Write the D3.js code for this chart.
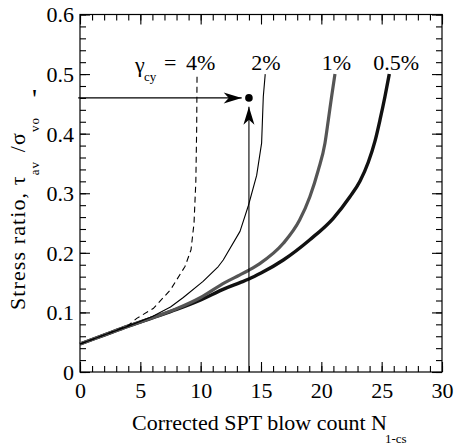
<!DOCTYPE html>
<html><head><meta charset="utf-8">
<script src="https://cdn.jsdelivr.net/npm/d3@7"></script>
<style>
body{margin:0;background:#fff}
</style>
</head><body>
<svg id="chart" width="454" height="448"></svg>
<script>
// ---- data ----
const xTicks = [0, 5, 10, 15, 20, 25, 30];
const yTicks = [0, 0.1, 0.2, 0.3, 0.4, 0.5, 0.6];
const yTickLabels = ["0", "0.1", "0.2", "0.3", "0.4", "0.5", "0.6"];
const strainLabels = ["4%", "2%", "1%", "0.5%"];
const strainLabelX = [10.0, 15.4, 21.25, 26.2];

const n4 = [0, 2, 4, 4.7, 6.1, 7.5, 8.7, 9.2, 9.45, 9.6, 9.67, 9.7];
const r4 = [0.047, 0.062, 0.078, 0.090, 0.107, 0.138, 0.177, 0.205, 0.25, 0.32, 0.41, 0.50];

const n2 = [0, 2, 4, 6, 7.5, 8.56, 10.2, 11.46, 11.87, 13.26, 13.95, 14.64, 15.05, 15.19, 15.35];
const r2 = [0.047, 0.062, 0.077, 0.093, 0.109, 0.125, 0.152, 0.177, 0.188, 0.236, 0.279, 0.330, 0.384, 0.462, 0.500];

const n1 = [0, 2, 4, 6, 8, 10, 12, 13.26, 14, 14.9, 16.85, 18.2, 19.05, 19.75, 20.3, 20.58, 20.85, 21.13];
const r1 = [0.047, 0.062, 0.077, 0.091, 0.106, 0.125, 0.150, 0.163, 0.171, 0.182, 0.216, 0.255, 0.294, 0.339, 0.384, 0.423, 0.462, 0.500];

const n05 = [0, 2, 4, 6, 8, 10, 12, 13.26, 14, 15, 16.85, 19.05, 20.99, 22.37, 23.2, 23.89, 24.44, 24.86, 25.27, 25.63];
const r05 = [0.047, 0.062, 0.077, 0.091, 0.105, 0.121, 0.140, 0.150, 0.156, 0.166, 0.188, 0.222, 0.258, 0.294, 0.320, 0.352, 0.387, 0.423, 0.462, 0.500];

const designPoint = [14, 0.46];
const hArrow = [[-0.15, 0.46], [13.4, 0.46]];
const vArrow = [[14, 0], [14, 0.445]];

// ---- layout ----
const FONT = '"Liberation Serif"';
const svg = d3.select("#chart");
const L = 80, R = 442, T = 14.5, B = 372;
const x = d3.scaleLinear().domain([0, 30]).range([L, R]);
const y = d3.scaleLinear().domain([0, 0.6]).range([B, T]);

function txt(sel) { return sel.attr("font-family", null).style("font-family", FONT).attr("fill", "#000"); }

const defs = svg.append("defs");
defs.append("marker").attr("id", "arr")
  .attr("viewBox", "-20 -7 22 14").attr("refX", 0).attr("refY", 0)
  .attr("markerWidth", 22).attr("markerHeight", 14)
  .attr("markerUnits", "userSpaceOnUse").attr("orient", "auto")
  .append("path").attr("d", "M0,0 L-18,-5.5 L-13,0 L-18,5.5 Z").attr("fill", "#000");

function styleAxis(g) {
  g.attr("font-family", null).attr("font-size", null);
  g.select(".domain").remove();
  g.selectAll(".tick line").attr("stroke", "#000").attr("stroke-width", 1.1);
}
const minorX = d3.range(0, 31, 1);
const minorY = d3.range(0, 0.601, 0.02);

svg.append("g").attr("transform", `translate(0,${B})`)
  .call(d3.axisBottom(x).tickValues(minorX).tickSize(-6).tickFormat("")).call(styleAxis);
svg.append("g").attr("transform", `translate(0,${B})`)
  .call(d3.axisBottom(x).tickValues(xTicks).tickSize(-10).tickFormat(d3.format("d")))
  .call(styleAxis)
  .call(g => txt(g.selectAll("text")).attr("font-size", 22).attr("dy", null).attr("y", 26));
svg.append("g").attr("transform", `translate(0,${T})`)
  .call(d3.axisTop(x).tickValues(minorX).tickSize(-6).tickFormat("")).call(styleAxis);
svg.append("g").attr("transform", `translate(0,${T})`)
  .call(d3.axisTop(x).tickValues(xTicks).tickSize(-10).tickFormat("")).call(styleAxis);

svg.append("g").attr("transform", `translate(${L},0)`)
  .call(d3.axisLeft(y).tickValues(minorY).tickSize(-6).tickFormat("")).call(styleAxis);
svg.append("g").attr("transform", `translate(${L},0)`)
  .call(d3.axisLeft(y).tickValues(yTicks).tickSize(-10).tickFormat((d, i) => yTickLabels[i]))
  .call(styleAxis)
  .call(g => txt(g.selectAll("text")).attr("font-size", 22).attr("x", -6).attr("dy", "0.34em"));
svg.append("g").attr("transform", `translate(${R},0)`)
  .call(d3.axisRight(y).tickValues(minorY).tickSize(-6).tickFormat("")).call(styleAxis);
svg.append("g").attr("transform", `translate(${R},0)`)
  .call(d3.axisRight(y).tickValues(yTicks).tickSize(-10).tickFormat("")).call(styleAxis);

svg.append("rect").attr("x", L).attr("y", T).attr("width", R - L).attr("height", B - T)
  .attr("fill", "none").attr("stroke", "#000").attr("stroke-width", 1.2);

// curves
const lineLin = d3.line().x(d => x(d[0])).y(d => y(d[1])).curve(d3.curveLinear);
const lineSmooth = d3.line().x(d => x(d[0])).y(d => y(d[1])).curve(d3.curveMonotoneX);
const series = [
  {n: n4, r: r4, color: "#000", w: 1.1, dash: "6,4", gen: lineLin},
  {n: n2, r: r2, color: "#000", w: 1.1, dash: null, gen: lineLin},
  {n: n1, r: r1, color: "#555", w: 3.2, dash: null, gen: lineSmooth},
  {n: n05, r: r05, color: "#111", w: 3.4, dash: null, gen: lineSmooth}
];
series.slice().reverse().forEach(s => {
  svg.append("path").datum(s.n.map((v, i) => [v, s.r[i]]))
    .attr("d", s.gen).attr("fill", "none").attr("stroke", s.color)
    .attr("stroke-width", s.w).attr("stroke-dasharray", s.dash)
    .attr("stroke-linejoin", "round");
});

// arrows and point
[hArrow, vArrow].forEach(a => {
  svg.append("line").attr("x1", x(a[0][0])).attr("y1", y(a[0][1]))
    .attr("x2", x(a[1][0])).attr("y2", y(a[1][1]))
    .attr("stroke", "#000").attr("stroke-width", 1.1).attr("marker-end", "url(#arr)");
});
svg.append("circle").attr("cx", x(designPoint[0])).attr("cy", y(designPoint[1])).attr("r", 3.8).attr("fill", "#000");

// strain labels
strainLabels.forEach((t, i) => {
  txt(svg.append("text")).attr("x", x(strainLabelX[i])).attr("y", y(0.5) - 4)
    .attr("text-anchor", "middle").attr("font-size", 22).text(t);
});
txt(svg.append("text")).attr("x", 135).attr("y", y(0.5) - 2).attr("font-size", 22).text("γ");
txt(svg.append("text")).attr("x", 144).attr("y", y(0.5) + 7).attr("font-size", 13).text("cy");
txt(svg.append("text")).attr("x", 164).attr("y", y(0.5) - 4).attr("font-size", 22).text("=");

// axis titles
const xt = txt(svg.append("text")).attr("x", 132).attr("y", 430).attr("font-size", 22);
xt.append("tspan").text("Corrected SPT blow count N");
xt.append("tspan").attr("font-size", 13).attr("dy", 13).attr("dx", -2).text("1-cs");

const yt = txt(svg.append("text")).attr("transform", "translate(25,310) rotate(-90)")
  .attr("font-size", 22).attr("letter-spacing", 1.1);
yt.append("tspan").text("Stress ratio, τ");
yt.append("tspan").attr("font-size", 13).attr("dy", 14).text("av");
yt.append("tspan").attr("dy", -14).attr("dx", 2).text(" /σ");
yt.append("tspan").attr("font-size", 13).attr("dy", 14).text("vo");
txt(svg.append("text")).attr("x", 32).attr("y", 108).attr("font-size", 28).text("'");
</script>
</body></html>
